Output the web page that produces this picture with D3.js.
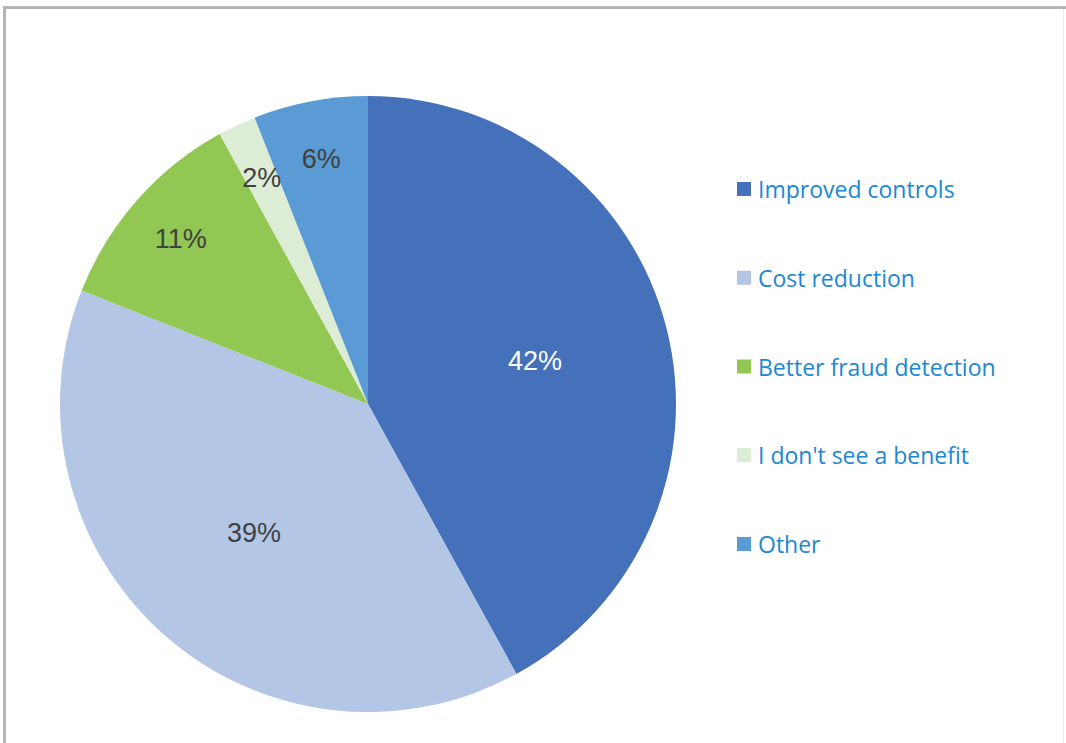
<!DOCTYPE html>
<html>
<head>
<meta charset="utf-8">
<script src="https://cdn.jsdelivr.net/npm/d3@7"></script>
<style>
  html, body { margin: 0; padding: 0; background: #ffffff; }
  svg { display: block; }
</style>
</head>
<body>
<svg id="chart" width="1066" height="743"></svg>
<script>
// Survey responses: perceived benefit
const categories = ["Improved controls", "Cost reduction", "Better fraud detection", "I don't see a benefit", "Other"];
const values = [42, 39, 11, 2, 6];
const colors = ["#4571BA", "#B3C6E6", "#92C754", "#DDEDD5", "#5B9BD5"];
const labelColors = ["#FFFFFF", "#404040", "#404040", "#404040", "#404040"];

const W = 1066, H = 743;
const svg = d3.select("#chart");

// Frame of the chart area
svg.append("line").attr("x1", 3).attr("y1", 7.5).attr("x2", W).attr("y2", 7.5)
  .attr("stroke", "#b5b5b5").attr("stroke-width", 3);
svg.append("line").attr("x1", 4.5).attr("y1", 6).attr("x2", 4.5).attr("y2", H)
  .attr("stroke", "#b5b5b5").attr("stroke-width", 3);
svg.append("line").attr("x1", 1063.5).attr("y1", 9).attr("x2", 1063.5).attr("y2", H)
  .attr("stroke", "#ececec").attr("stroke-width", 1);

const cx = 368, cy = 404, R = 308;
const data = categories.map((c, i) => ({ category: c, value: values[i], color: colors[i], labelColor: labelColors[i] }));

const pie = d3.pie().value(d => d.value).sort(null);
const arcs = pie(data);
const arc = d3.arc().innerRadius(0).outerRadius(R);

const g = svg.append("g").attr("transform", `translate(${cx},${cy})`);
g.selectAll("path.slice").data(arcs).enter().append("path")
  .attr("class", "slice")
  .attr("d", arc)
  .attr("fill", d => d.data.color);

// Large slices get their label nearer the centre, thin ones further out
const labelArcBig = d3.arc().innerRadius(R * 0.56).outerRadius(R * 0.56);
const labelArcSmall = d3.arc().innerRadius(R * 0.81).outerRadius(R * 0.81);
const total = d3.sum(values);

g.selectAll("text.pct").data(arcs).enter().append("text")
  .attr("class", "pct")
  .attr("transform", d => {
    const share = d.data.value / total;
    const a = share > 0.2 ? labelArcBig : labelArcSmall;
    const [x, y] = a.centroid(d);
    return `translate(${x},${y})`;
  })
  .attr("text-anchor", "middle")
  .attr("dominant-baseline", "central")
  .attr("font-family", "'Liberation Sans', Arial, sans-serif")
  .attr("font-size", 27)
  .attr("fill", d => d.data.labelColor)
  .text(d => d3.format(".0f")(d.data.value / total * 100) + "%");

// Legend
const legendY = d3.scalePoint().domain(categories).range([189, 544]);
const legend = svg.append("g");
const items = legend.selectAll("g.item").data(data).enter().append("g")
  .attr("class", "item")
  .attr("transform", d => `translate(737,${legendY(d.category)})`);
items.append("rect")
  .attr("x", 0).attr("y", -7).attr("width", 14).attr("height", 14)
  .attr("fill", d => d.color);
items.append("text")
  .attr("x", 21).attr("y", 0)
  .attr("dominant-baseline", "central")
  .attr("font-family", "'Open Sans', Lato, sans-serif")
  .attr("font-size", 23)
  .attr("fill", "#2087D2")
  .text(d => d.category);
</script>
</body>
</html>
